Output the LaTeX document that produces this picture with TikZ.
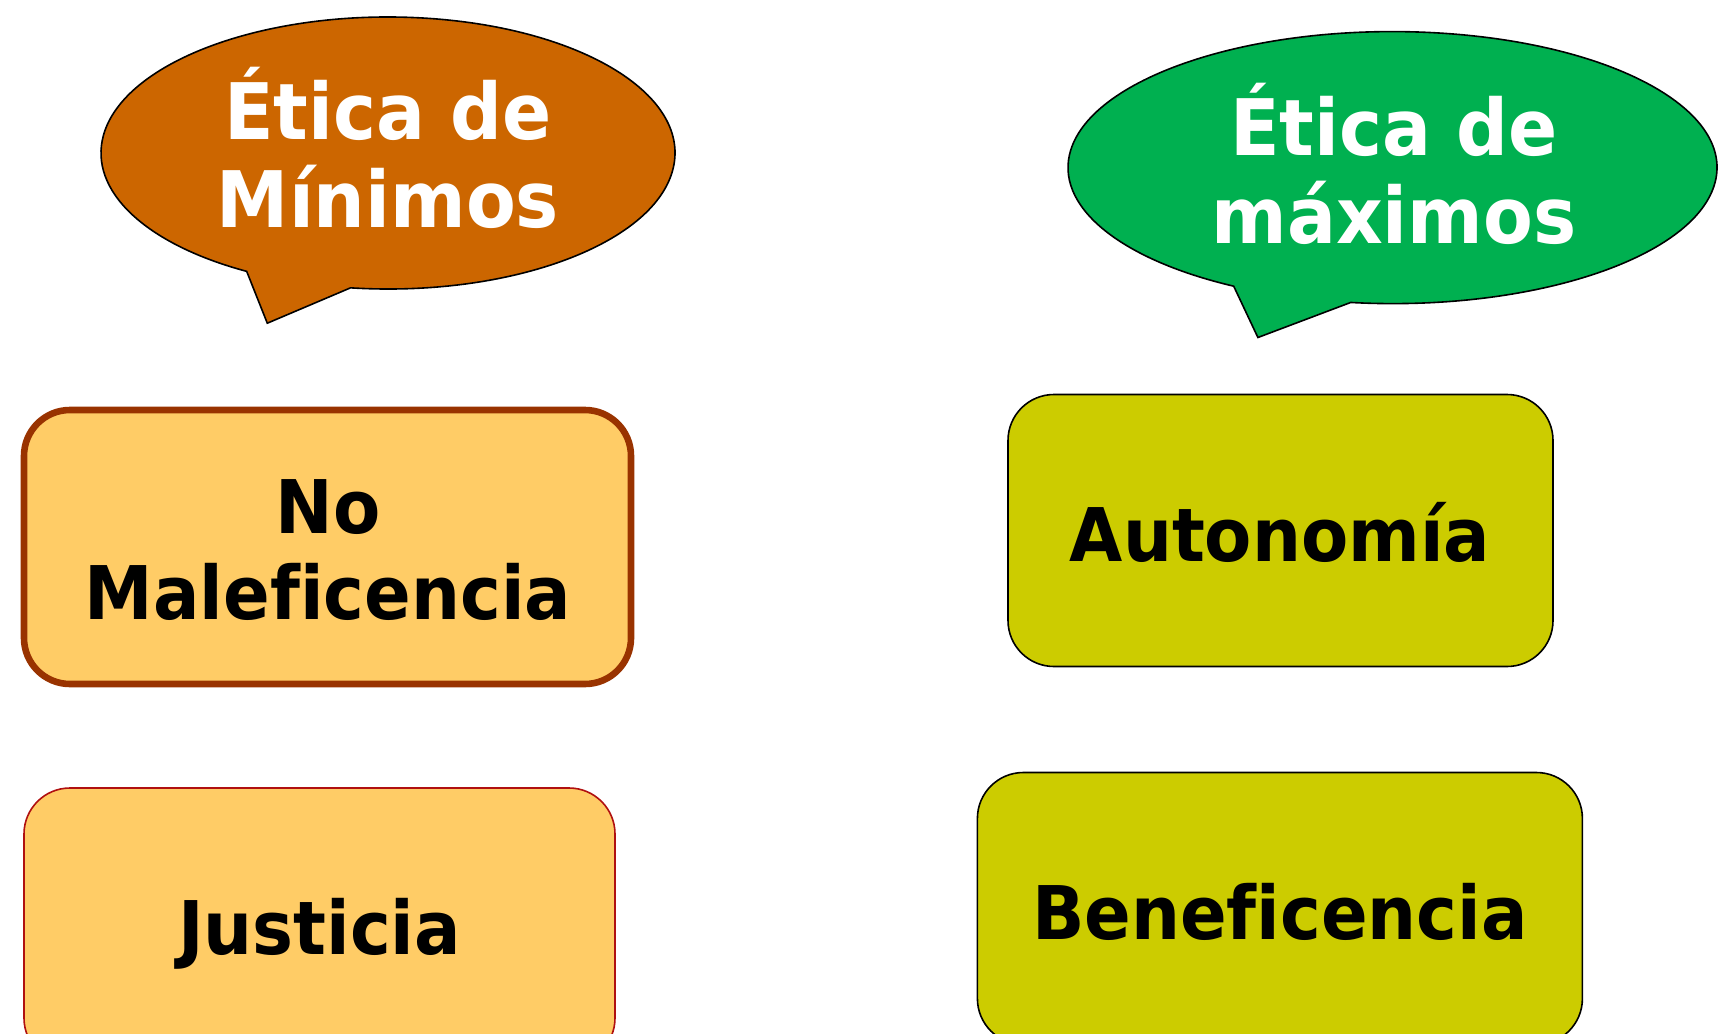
\documentclass[tikz,border=0pt]{standalone}
\usepackage{fontspec}
\usetikzlibrary{calc}
\newfontfamily\hf[FakeStretch=0.93, Ligatures=NoCommon]{DejaVu Sans}
\definecolor{minfill}{HTML}{CC6600}
\definecolor{maxfill}{HTML}{00B050}
\definecolor{boxorange}{HTML}{FFCC66}
\definecolor{boxbrown}{HTML}{993300}
\definecolor{boxred}{HTML}{B01010}
\definecolor{boxolive}{HTML}{CCCC00}
\tikzset{
  bubble/.style={draw=black, line width=1.6pt, line join=miter},
  bubbletext/.style={anchor=base, text=white, inner sep=0pt, font=\hf\bfseries\fontsize{78}{88}\selectfont},
  boxtext/.style={anchor=base, text=black, inner sep=0pt, font=\hf\bfseries\fontsize{74}{84}\selectfont},
  roundbox/.style={rectangle, rounded corners=46pt, anchor=north west, inner sep=0pt, outer sep=0pt},
}
\begin{document}
\begin{tikzpicture}[x=1pt,y=1pt]
\useasboundingbox (0,0) rectangle (1718,-1033);
\fill[white] (0,0) rectangle (1718,-1033);

% left speech bubble
\coordinate (lc) at (388,-153);
\coordinate (ltip) at (267.3,-323.2);
\path[bubble, fill=minfill]
  ($(lc)+({287*cos(-97.5)},{136*sin(-97.5)})$)
  arc[start angle=-97.5, end angle=240.5, x radius=287, y radius=136]
  -- (ltip) -- cycle;

% right speech bubble
\coordinate (rc) at (1392.5,-167.6);
\coordinate (rtip) at (1257.9,-337.5);
\path[bubble, fill=maxfill]
  ($(rc)+({324.5*cos(-97.4)},{136*sin(-97.4)})$)
  arc[start angle=-97.4, end angle=240.7, x radius=324.5, y radius=136]
  -- (rtip) -- cycle;

\node[bubbletext] (l1) at (388,-139) {Ética de};
\node[bubbletext] (l2) at (388,-227) {Mínimos};
\node[bubbletext] (r1) at (1394,-155.6) {Ética de};
\node[bubbletext] (r2) at (1394,-243) {máximos};

% boxes
\node[roundbox, draw=boxbrown, line width=6.6pt, fill=boxorange,
      minimum width=607pt, minimum height=274pt] (nomal) at (24,-410) {};
\node[roundbox, draw=boxred, line width=1.6pt, fill=boxorange,
      minimum width=591pt, minimum height=276pt] (just) at (24,-788) {};
\node[roundbox, draw=black, line width=1.6pt, fill=boxolive,
      minimum width=545pt, minimum height=272pt] (auto) at (1008,-394.5) {};
\node[roundbox, draw=black, line width=1.6pt, fill=boxolive,
      minimum width=605pt, minimum height=272pt] (bene) at (977.4,-772.5) {};

\node[boxtext] (t1) at (328,-533.6) {No};
\node[boxtext] (t2) at (328,-619) {Maleficencia};
\node[boxtext] (t3) at (319.5,-954) {Justicia};
\node[boxtext] (t4) at (1280,-561) {Autonomía};
\node[boxtext] (t5) at (1280,-939) {Beneficencia};
\end{tikzpicture}
\end{document}
